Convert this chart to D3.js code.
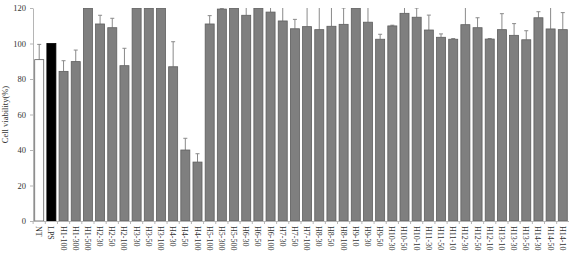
<!DOCTYPE html>
<html>
<head>
<meta charset="utf-8">
<script src="https://cdn.jsdelivr.net/npm/d3@7"></script>
<style>
  body { margin: 0; background: #fff; }
  svg { display: block; }
  text { font-family: "Liberation Serif", "Times New Roman", serif; fill: #333; }
</style>
</head>
<body>
<svg id="chart" width="569" height="257"></svg>
<script>
// categories, values and upper error ends
const categories = ["NT", "LPS", "H1-100", "H1-300", "H1-500", "H2-30", "H2-50", "H2-100",
  "H3-30", "H3-50", "H3-100", "H4-30", "H4-50", "H4-100", "H5-100", "H5-300", "H5-500",
  "H6-30", "H6-50", "H6-100", "H7-30", "H7-50", "H7-100", "H8-30", "H8-50", "H8-100",
  "H9-10", "H9-30", "H9-50", "H10-30", "H10-50", "H10-10", "H11-30", "H11-50", "H11-10",
  "H12-30", "H12-50", "H12-10", "H13-10", "H13-30", "H13-50", "H14-30", "H14-50", "H14-10"];
const viability = [90.9, 100, 84.3, 89.8, 120, 111, 108.9, 87.5,
  120, 120, 120, 86.9, 40, 33.2, 111, 119.4, 120,
  115.9, 120, 117.7, 112.7, 108.3, 109.5, 107.8, 109.7, 110.8,
  120, 112, 102.4, 109.9, 117, 114.8, 107.6, 103.5, 102.4,
  110.6, 108.9, 102.5, 107.8, 104.6, 102.1, 114.5, 108.2, 107.8];
const errorTop = [99.5, 100, 90.3, 96.3, 120, 115.9, 114.2, 97.3,
  120, 120, 120, 101, 46.6, 37.9, 115.7, 119.8, 120,
  125, 120, 125, 125, 113.6, 125, 125, 125, 120,
  120, 125, 105.2, 110.3, 125, 120, 116, 105.4, 102.8,
  120.4, 114.5, 102.8, 116.8, 111.2, 107.2, 117.9, 125, 117.4];
const yTicks = [0, 20, 40, 60, 80, 100, 120];

const svg = d3.select("#chart");
const plotTop = 8, plotBottom = 221, plotLeft = 33, plotRight = 569;

const x = d3.scaleBand().domain(categories).range([plotLeft, plotRight])
  .paddingInner(0.26).paddingOuter(0.14);
const y = d3.scaleLinear().domain([0, 120]).range([plotBottom, plotTop]);

// clip bars that go past the axis top
svg.append("defs").append("clipPath").attr("id", "plot")
  .append("rect").attr("x", plotLeft).attr("y", plotTop)
  .attr("width", plotRight - plotLeft).attr("height", plotBottom - plotTop);

const plot = svg.append("g").attr("clip-path", "url(#plot)");

// error bars (upper only)
const err = plot.selectAll(".err").data(categories).enter().append("g").attr("class", "err");
err.append("line")
  .attr("x1", d => x(d) + x.bandwidth() / 2).attr("x2", d => x(d) + x.bandwidth() / 2)
  .attr("y1", (d, i) => y(viability[i])).attr("y2", (d, i) => y(errorTop[i]))
  .attr("stroke", "#8a8a8a").attr("stroke-width", 1);
err.append("line")
  .attr("x1", d => x(d) + x.bandwidth() / 2 - 2).attr("x2", d => x(d) + x.bandwidth() / 2 + 2)
  .attr("y1", (d, i) => y(errorTop[i])).attr("y2", (d, i) => y(errorTop[i]))
  .attr("stroke", "#8a8a8a").attr("stroke-width", 1)
  .attr("display", (d, i) => errorTop[i] - viability[i] > 0.2 ? null : "none");

plot.selectAll(".bar").data(categories).enter().append("rect")
  .attr("class", "bar")
  .attr("x", d => x(d)).attr("width", x.bandwidth())
  .attr("y", (d, i) => y(viability[i]))
  .attr("height", (d, i) => plotBottom - y(viability[i]))
  .attr("fill", (d, i) => i == 0 ? "#fff" : i == 1 ? "#000" : "#7f7f7f")
  .attr("stroke", (d, i) => i == 1 ? "#000" : "#5e5e5e")
  .attr("stroke-width", 0.8);

// y axis
const yAxis = svg.append("g").attr("transform", "translate(" + plotLeft + ",0)")
  .call(d3.axisLeft(y).tickValues(yTicks).tickSize(3).tickSizeOuter(0));
yAxis.select(".domain").attr("stroke", "#b5b5b5");
yAxis.selectAll(".tick line").attr("stroke", "#b5b5b5");
yAxis.selectAll(".tick text").attr("font-size", 8.5).attr("fill", "#444")
  .attr("font-family", "Liberation Serif, serif").attr("x", -7);

// x axis line and separators
svg.append("line").attr("x1", plotLeft).attr("x2", plotRight)
  .attr("y1", plotBottom + 0.5).attr("y2", plotBottom + 0.5)
  .attr("stroke", "#b5b5b5");
svg.selectAll(".sep").data(categories).enter().append("line")
  .attr("x1", d => x(d) - x.step() * x.paddingInner() / 2)
  .attr("x2", d => x(d) - x.step() * x.paddingInner() / 2)
  .attr("y1", plotBottom).attr("y2", plotBottom + 3).attr("stroke", "#b5b5b5");

// category labels, rotated
svg.selectAll(".cat").data(categories).enter().append("text")
  .attr("class", "cat")
  .attr("transform", d => "translate(" + (x(d) + x.bandwidth() / 2 - 3) + "," + (plotBottom + 5) + ") rotate(90)")
  .attr("font-size", 8).attr("fill", "#444")
  .text(d => d);

// y title
svg.append("text")
  .attr("transform", "translate(8," + ((plotTop + plotBottom) / 2) + ") rotate(-90)")
  .attr("text-anchor", "middle").attr("font-size", 8.5).attr("fill", "#444")
  .text("Cell viability(%)");
</script>
</body>
</html>
